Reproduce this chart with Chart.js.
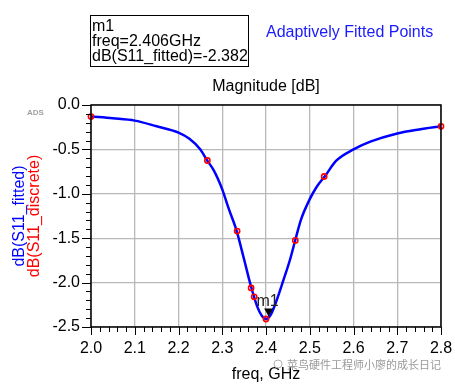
<!DOCTYPE html>
<html>
<head>
<meta charset="utf-8">
<script src="https://cdn.jsdelivr.net/npm/chart.js@4/dist/chart.umd.min.js"></script>
<style>
  html, body { margin: 0; padding: 0; background: #fff; }
  #wrap { width: 455px; height: 386px; position: relative; }
</style>
</head>
<body>
<div id="wrap"><canvas id="c" width="455" height="386"></canvas></div>
<script>
// fitted curve
const fitFreq = [2.00, 2.05, 2.10, 2.15, 2.20, 2.225, 2.25, 2.265, 2.28, 2.29, 2.30, 2.315, 2.333, 2.35, 2.365, 2.38, 2.39, 2.40, 2.41, 2.425, 2.44, 2.455, 2.467, 2.48, 2.50, 2.516, 2.535, 2.56, 2.60, 2.64, 2.70, 2.75, 2.80];
const fitDb = [-0.13, -0.15, -0.176, -0.24, -0.31, -0.38, -0.50, -0.62, -0.73, -0.83, -0.95, -1.17, -1.42, -1.74, -2.03, -2.27, -2.37, -2.41, -2.37, -2.19, -1.97, -1.74, -1.52, -1.29, -1.06, -0.92, -0.80, -0.63, -0.50, -0.41, -0.32, -0.275, -0.24];

// discrete samples (red circles)
const discFreq = [2.0, 2.266, 2.334, 2.366, 2.373, 2.400, 2.467, 2.533, 2.8];
const discDb = [-0.13, -0.625, -1.42, -2.06, -2.16, -2.41, -1.525, -0.805, -0.24];

const xTicks = [2.0, 2.1, 2.2, 2.3, 2.4, 2.5, 2.6, 2.7, 2.8];
const yTicks = [0.0, -0.5, -1.0, -1.5, -2.0, -2.5];

const markerName = 'm1';
const markerFreq = 2.406;
const markerDb = -2.382;

const FONT = '"Liberation Sans", Arial, sans-serif';

const toPts = (xs, ys) => xs.map((x, i) => ({x: x, y: ys[i]}));

const extras = {
  id: 'extras',
  afterDraw(chart) {
    const ctx = chart.ctx;
    const a = chart.chartArea;
    const xs = chart.scales.x, ys = chart.scales.y;
    ctx.save();

    // frame
    ctx.strokeStyle = '#000';
    ctx.lineWidth = 1.5;
    ctx.strokeRect(a.left, a.top, a.right - a.left, a.bottom - a.top);

    // major/minor ticks
    ctx.lineWidth = 1;
    ctx.beginPath();
    for (let i = 0; i <= 40; i++) {
      const v = 2.0 + i * 0.02;
      const px = Math.round(xs.getPixelForValue(v)) + 0.5;
      const len = i % 5 == 0 ? 8 : 5;
      ctx.moveTo(px, a.bottom);
      ctx.lineTo(px, a.bottom + len);
    }
    for (let i = 0; i <= 25; i++) {
      const v = -i * 0.1;
      const py = Math.round(ys.getPixelForValue(v)) + 0.5;
      const len = i % 5 == 0 ? 9 : 5;
      ctx.moveTo(a.left, py);
      ctx.lineTo(a.left - len, py);
    }
    ctx.stroke();

    // titles
    ctx.fillStyle = '#000';
    ctx.font = '16px ' + FONT;
    ctx.textAlign = 'center';
    ctx.textBaseline = 'alphabetic';
    ctx.fillText('Magnitude [dB]', (a.left + a.right) / 2, 91);
    ctx.fillText('freq, GHz', (a.left + a.right) / 2, 379);

    // y axis titles (two colours)
    const cy = (a.top + a.bottom) / 2;
    ctx.save();
    ctx.translate(24, cy);
    ctx.rotate(-Math.PI / 2);
    ctx.fillStyle = '#0000ff';
    ctx.fillText('dB(S11_fitted)', 0, 0);
    ctx.fillStyle = '#ff0000';
    ctx.fillText('dB(S11_discrete)', 0, 15);
    ctx.restore();

    // ADS tag
    ctx.fillStyle = '#a0a0a0';
    ctx.font = 'bold 8px ' + FONT;
    ctx.textAlign = 'left';
    ctx.fillText('ADS', 27, 115);

    // marker readout box
    ctx.strokeStyle = '#000';
    ctx.lineWidth = 1;
    ctx.strokeRect(90.5, 15.5, 158, 51);
    ctx.fillStyle = '#000';
    ctx.font = '16px ' + FONT;
    ctx.fillText(markerName, 92, 31);
    ctx.fillText('freq=' + markerFreq.toFixed(3) + 'GHz', 92, 46);
    ctx.fillText('dB(S11_fitted)=' + markerDb.toFixed(3), 92, 61);

    ctx.fillStyle = '#1a1aff';
    ctx.fillText('Adaptively Fitted Points', 266, 37);

    // marker triangle + label
    const mx = xs.getPixelForValue(markerFreq);
    const my = ys.getPixelForValue(markerDb);
    ctx.fillStyle = '#000';
    ctx.beginPath();
    ctx.moveTo(mx - 4.5, my - 8);
    ctx.lineTo(mx + 4.5, my - 8);
    ctx.lineTo(mx, my);
    ctx.closePath();
    ctx.fill();
    ctx.font = '16px ' + FONT;
    ctx.textAlign = 'center';
    ctx.fillStyle = '#222';
    ctx.fillText(markerName, mx - 1, my - 11);

    // watermark
    ctx.fillStyle = '#9a9a9a';
    ctx.font = '11px "Noto Sans CJK SC", sans-serif';
    ctx.textAlign = 'left';
    ctx.fillText('菜鸟硬件工程师小廖的成长日记', 287, 369);
    ctx.strokeStyle = '#b0b0b0';
    ctx.lineWidth = 1;
    ctx.beginPath();
    ctx.arc(278, 364, 4, 0, Math.PI * 2);
    ctx.stroke();

    ctx.restore();
  }
};

new Chart(document.getElementById('c'), {
  type: 'line',
  data: {
    datasets: [
      {
        label: 'dB(S11_discrete)',
        data: toPts(discFreq, discDb),
        showLine: false,
        pointRadius: 2.6,
        pointBorderWidth: 1.6,
        pointBorderColor: '#ff0000',
        pointBackgroundColor: 'rgba(0,0,0,0)',
        clip: false,
        order: 0
      },
      {
        label: 'dB(S11_fitted)',
        data: toPts(fitFreq, fitDb),
        borderColor: '#0000ff',
        borderWidth: 2.5,
        pointRadius: 0,
        cubicInterpolationMode: 'monotone',
        clip: false,
        order: 1
      }
    ]
  },
  options: {
    responsive: false,
    animation: false,
    layout: { padding: { left: 0, top: 105, right: 14, bottom: 0 } },
    plugins: { legend: { display: false }, tooltip: { enabled: false }, title: { display: false } },
    scales: {
      x: {
        type: 'linear',
        min: 2.0,
        max: 2.8,
        afterBuildTicks: (s) => { s.ticks = xTicks.map(v => ({value: v})); },
        afterFit: (s) => { s.height = 59; s.paddingRight = 0; },
        grid: { color: '#b8b8b8', lineWidth: 1.3, drawTicks: false },
        border: { display: false },
        ticks: {
          padding: 12,
          color: '#000',
          maxRotation: 0,
          autoSkip: false,
          font: { family: FONT, size: 16 },
          callback: (v) => Number(v).toFixed(1)
        }
      },
      y: {
        min: -2.5,
        max: 0,
        afterBuildTicks: (s) => { s.ticks = yTicks.map(v => ({value: v})); },
        afterFit: (s) => { s.width = 91; },
        grid: { color: '#b8b8b8', lineWidth: 1.3, drawTicks: false },
        border: { display: false },
        ticks: {
          padding: 11,
          color: '#000',
          autoSkip: false,
          font: { family: FONT, size: 16 },
          callback: (v) => Number(v).toFixed(1)
        }
      }
    }
  },
  plugins: [extras]
});
</script>
</body>
</html>
